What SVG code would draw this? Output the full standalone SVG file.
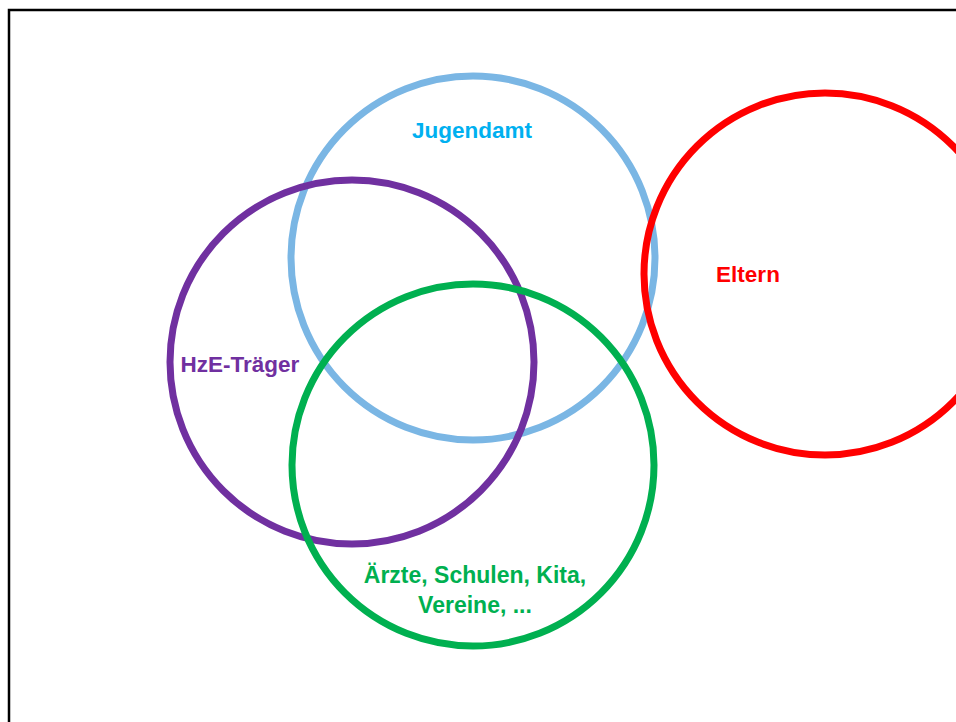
<svg xmlns="http://www.w3.org/2000/svg" width="956" height="722" viewBox="0 0 956 722">
<style>
.c{fill:none;stroke-width:7}
.t{font-family:"Liberation Sans",Arial,sans-serif;font-weight:bold;font-size:22.5px;text-anchor:middle}
</style>
<rect width="956" height="722" fill="#fff"/>
<rect x="9" y="10" width="960" height="730" fill="none" stroke="#000" stroke-width="2.5"/>
<g id="jugendamt">
<circle class="c" cx="473" cy="258" r="182" stroke="#7AB6E4"/>
<text class="t" x="472" y="138" fill="#00B0F0">Jugendamt</text>
</g>
<g id="hze">
<circle class="c" cx="352" cy="362" r="182" stroke="#7030A0"/>
<text class="t" x="240" y="372" fill="#7030A0">HzE-Träger</text>
</g>
<g id="aerzte">
<circle class="c" cx="473" cy="465" r="181" stroke="#00B050"/>
<text class="t" x="475" y="583" fill="#00B050" style="font-size:23px">Ärzte, Schulen, Kita,</text>
<text class="t" x="475" y="613" fill="#00B050" style="font-size:23px">Vereine, ...</text>
</g>
<g id="eltern">
<circle class="c" cx="825" cy="274" r="181" stroke="#FF0000"/>
<text class="t" x="748" y="282" fill="#FF0000">Eltern</text>
</g>
<g id="connectors"/>
</svg>
